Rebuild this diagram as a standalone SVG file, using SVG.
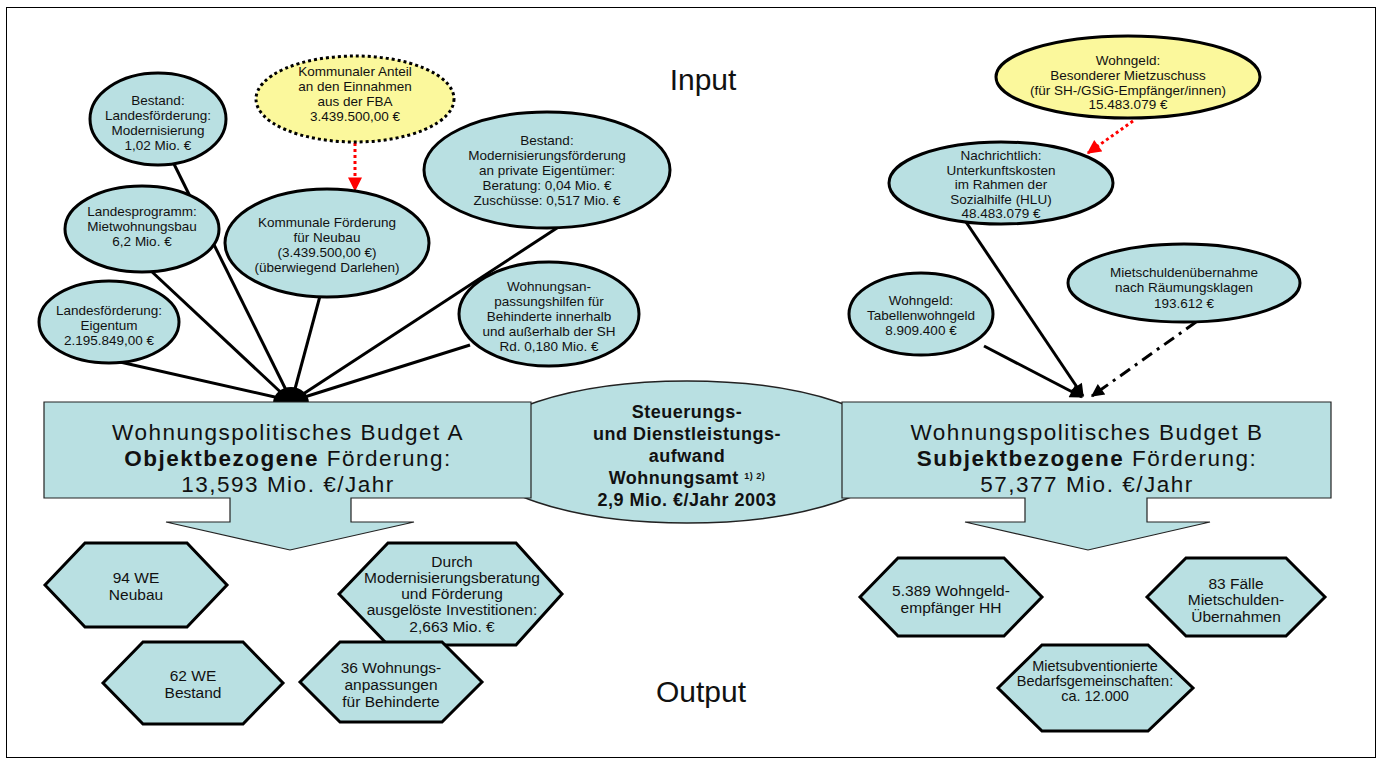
<svg xmlns="http://www.w3.org/2000/svg" width="1382" height="764" viewBox="0 0 1382 764">
<defs>
<style>
.n{fill:#b9e0e2;stroke:#000;stroke-width:3}
.y{fill:#fbf89c;stroke:#000;stroke-width:3}
.dot{stroke-dasharray:3 3}
.b{fill:#b9e0e2;stroke:#222;stroke-width:1.2}
.t{font-family:"Liberation Sans",Arial,sans-serif;font-size:13.5px;text-anchor:middle;fill:#111}
.h{font-family:"Liberation Sans",Arial,sans-serif;font-size:15.5px;text-anchor:middle;fill:#111}
.big{font-family:"Liberation Sans",Arial,sans-serif;font-size:22.5px;text-anchor:middle;fill:#111;letter-spacing:1.5px}
.mid{font-family:"Liberation Sans",Arial,sans-serif;font-size:18px;font-weight:bold;text-anchor:middle;fill:#111;letter-spacing:0.5px}
.ttl{font-family:"Liberation Sans",Arial,sans-serif;font-size:30px;text-anchor:middle;fill:#111}
.c{stroke:#000;stroke-width:3;fill:none}
.r{stroke:#f00;stroke-width:3;fill:none;stroke-dasharray:3 3}
</style>
<marker id="ak" viewBox="0 0 10 10" refX="9" refY="5" markerWidth="15" markerHeight="13" markerUnits="userSpaceOnUse" orient="auto"><path d="M0,0 L10,5 L0,10 z" fill="#000"/></marker>
<marker id="ar" viewBox="0 0 10 10" refX="9" refY="5" markerWidth="15" markerHeight="14" markerUnits="userSpaceOnUse" orient="auto"><path d="M0,0 L10,5 L0,10 z" fill="#f00"/></marker>
</defs>
<rect x="0" y="0" width="1382" height="764" fill="#fff"/>
<rect x="6.5" y="7.5" width="1369" height="750" fill="none" stroke="#000" stroke-width="1"/>
<text class="ttl" x="703" y="90">Input</text>
<text class="ttl" x="701" y="702">Output</text>

<g id="connectors">
<line class="c" x1="172" y1="160" x2="291" y2="400"/>
<line class="c" x1="150" y1="270" x2="289" y2="400"/>
<line class="c" x1="120" y1="362" x2="288" y2="400"/>
<line class="c" x1="320" y1="296" x2="292" y2="400"/>
<line class="c" x1="560" y1="226" x2="294" y2="400"/>
<line class="c" x1="470" y1="345" x2="295" y2="400"/>
<path d="M273,403 A18,16 0 0 1 309,403 Z" fill="#000"/>
<line class="c" x1="966" y1="222" x2="1083" y2="396" marker-end="url(#ak)"/>
<line class="c" x1="984" y1="346" x2="1082" y2="397" marker-end="url(#ak)"/>
<line class="c" x1="1196" y1="322" x2="1092" y2="396" stroke-dasharray="12 6 3 6" marker-end="url(#ak)"/>
<line class="r" x1="355" y1="143" x2="355" y2="190" marker-end="url(#ar)"/>
<line class="r" x1="1133" y1="121" x2="1088" y2="153" marker-end="url(#ar)"/>
</g>

<g id="bestand-landesfoerderung">
<ellipse class="n" cx="158" cy="119" rx="68" ry="46"/>
<text class="t" x="158" y="105">Bestand:</text>
<text class="t" x="158" y="120">Landesförderung:</text>
<text class="t" x="158" y="135">Modernisierung</text>
<text class="t" x="158" y="150">1,02 Mio. €</text>
</g>
<g id="landesprogramm">
<ellipse class="n" cx="142" cy="229" rx="77" ry="43"/>
<text class="t" x="142" y="216">Landesprogramm:</text>
<text class="t" x="142" y="231">Mietwohnungsbau</text>
<text class="t" x="142" y="246">6,2 Mio. €</text>
</g>
<g id="eigentum">
<ellipse class="n" cx="109" cy="322" rx="70" ry="41"/>
<text class="t" x="109" y="315">Landesförderung:</text>
<text class="t" x="109" y="330">Eigentum</text>
<text class="t" x="109" y="345">2.195.849,00 €</text>
</g>
<g id="fba">
<ellipse class="y dot" cx="355" cy="99" rx="99" ry="43"/>
<text class="t" x="355" y="76">Kommunaler Anteil</text>
<text class="t" x="355" y="91">an den Einnahmen</text>
<text class="t" x="355" y="106">aus der FBA</text>
<text class="t" x="355" y="121">3.439.500,00 €</text>
</g>
<g id="kommunale-foerderung">
<ellipse class="n" cx="327" cy="243" rx="102" ry="54"/>
<text class="t" x="327" y="227">Kommunale Förderung</text>
<text class="t" x="327" y="242">für Neubau</text>
<text class="t" x="327" y="257">(3.439.500,00 €)</text>
<text class="t" x="327" y="272">(überwiegend Darlehen)</text>
</g>
<g id="modernisierungsfoerderung">
<ellipse class="n" cx="547" cy="170" rx="123" ry="58"/>
<text class="t" x="547" y="145">Bestand:</text>
<text class="t" x="547" y="160">Modernisierungsförderung</text>
<text class="t" x="547" y="175">an private Eigentümer:</text>
<text class="t" x="547" y="190">Beratung: 0,04 Mio. €</text>
<text class="t" x="547" y="205">Zuschüsse: 0,517 Mio. €</text>
</g>
<g id="wohnungsanpassung">
<ellipse class="n" cx="549" cy="314" rx="90" ry="52"/>
<text class="t" x="549" y="291">Wohnungsan-</text>
<text class="t" x="549" y="306">passungshilfen für</text>
<text class="t" x="549" y="321">Behinderte innerhalb</text>
<text class="t" x="549" y="336">und außerhalb der SH</text>
<text class="t" x="549" y="351">Rd. 0,180 Mio. €</text>
</g>

<g id="mietzuschuss">
<ellipse class="y" cx="1128" cy="77" rx="132" ry="41"/>
<text class="t" x="1128" y="65">Wohngeld:</text>
<text class="t" x="1128" y="80">Besonderer Mietzuschuss</text>
<text class="t" x="1128" y="95">(für SH-/GSiG-Empfänger/innen)</text>
<text class="t" x="1128" y="109">15.483.079 €</text>
</g>
<g id="unterkunftskosten">
<ellipse class="n" cx="1001" cy="183" rx="112" ry="41"/>
<text class="t" x="1001" y="160">Nachrichtlich:</text>
<text class="t" x="1001" y="175">Unterkunftskosten</text>
<text class="t" x="1001" y="189">im Rahmen der</text>
<text class="t" x="1001" y="204">Sozialhilfe (HLU)</text>
<text class="t" x="1001" y="218">48.483.079 €</text>
</g>
<g id="mietschulden">
<ellipse class="n" cx="1184" cy="283" rx="116" ry="39"/>
<text class="t" x="1184" y="277">Mietschuldenübernahme</text>
<text class="t" x="1184" y="292">nach Räumungsklagen</text>
<text class="t" x="1184" y="308">193.612 €</text>
</g>
<g id="tabellenwohngeld">
<ellipse class="n" cx="921" cy="314" rx="72" ry="41"/>
<text class="t" x="921" y="305">Wohngeld:</text>
<text class="t" x="921" y="320">Tabellenwohngeld</text>
<text class="t" x="921" y="335">8.909.400 €</text>
</g>

<g id="steuerung">
<ellipse cx="687" cy="452" rx="212" ry="71" fill="#b9e0e2" stroke="#222" stroke-width="1.5"/>
<text class="mid" x="687" y="418">Steuerungs-</text>
<text class="mid" x="687" y="440">und Dienstleistungs-</text>
<text class="mid" x="687" y="462">aufwand</text>
<text class="mid" x="687" y="484">Wohnungsamt <tspan font-size="9px" dy="-5">1) 2)</tspan></text>
<text class="mid" x="687" y="506">2,9 Mio. €/Jahr 2003</text>
</g>
<g id="budget-a">
<path class="b" d="M44,402 H531 V498 H351 V522 H414 L290,550 L166,522 H230 V498 H44 Z"/>
<text class="big" x="288" y="440">Wohnungspolitisches Budget A</text>
<text class="big" x="288" y="466"><tspan font-weight="bold">Objektbezogene</tspan> Förderung:</text>
<text class="big" x="288" y="492">13,593 Mio. €/Jahr</text>
</g>
<g id="budget-b">
<path class="b" d="M842,402 H1331 V498 H1147 V522 H1210 L1088,550 L965,522 H1025 V498 H842 Z"/>
<text class="big" x="1087" y="440">Wohnungspolitisches Budget B</text>
<text class="big" x="1087" y="466"><tspan font-weight="bold">Subjektbezogene</tspan> Förderung:</text>
<text class="big" x="1087" y="492">57,377 Mio. €/Jahr</text>
</g>

<g id="neubau">
<polygon class="n" points="45,585 85,543 187,543 227,585 187,627 85,627"/>
<text class="h" x="136" y="583">94 WE</text>
<text class="h" x="136" y="600">Neubau</text>
</g>
<g id="bestand-we">
<polygon class="n" points="103,683 143,642 243,642 283,683 243,724 143,724"/>
<text class="h" x="193" y="681">62 WE</text>
<text class="h" x="193" y="698">Bestand</text>
</g>
<g id="investitionen">
<polygon class="n" points="339,594 388,543 516,543 562,594 516,645 388,645"/>
<text class="h" x="452" y="567">Durch</text>
<text class="h" x="452" y="583">Modernisierungsberatung</text>
<text class="h" x="452" y="599">und Förderung</text>
<text class="h" x="452" y="615">ausgelöste Investitionen:</text>
<text class="h" x="452" y="632">2,663 Mio. €</text>
</g>
<g id="wohnungsanpassungen">
<polygon class="n" points="300,682 340,642 442,642 482,682 442,722 340,722"/>
<text class="h" x="391" y="673">36 Wohnungs-</text>
<text class="h" x="391" y="690">anpassungen</text>
<text class="h" x="391" y="707">für Behinderte</text>
</g>
<g id="wohngeldempfaenger">
<polygon class="n" points="860,597 898,558 1004,558 1042,597 1004,636 898,636"/>
<text class="h" x="951" y="596">5.389 Wohngeld-</text>
<text class="h" x="951" y="613">empfänger HH</text>
</g>
<g id="mietschulden-faelle">
<polygon class="n" points="1147,597 1186,558 1286,558 1325,597 1286,636 1186,636"/>
<text class="h" x="1236" y="589">83 Fälle</text>
<text class="h" x="1236" y="605">Mietschulden-</text>
<text class="h" x="1236" y="622">Übernahmen</text>
</g>
<g id="bedarfsgemeinschaften">
<polygon class="n" points="998,688 1042,645 1148,645 1193,688 1148,731 1042,731"/>
<text class="t" x="1095" y="671" style="font-size:14.5px">Mietsubventionierte</text>
<text class="t" x="1095" y="686" style="font-size:14.5px">Bedarfsgemeinschaften:</text>
<text class="t" x="1095" y="701" style="font-size:14.5px">ca. 12.000</text>
</g>
</svg>
